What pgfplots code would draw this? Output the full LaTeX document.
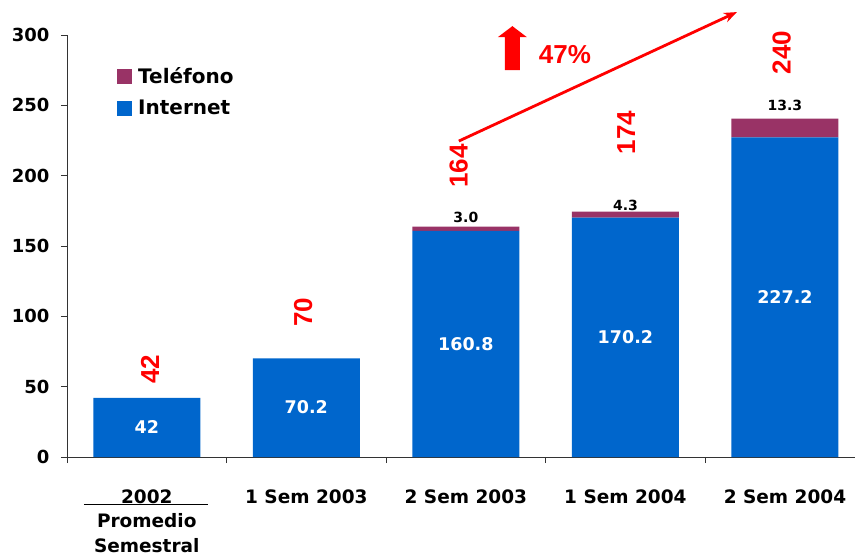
\documentclass[border=0pt]{standalone}
\usepackage{pgfplots}
\pgfplotsset{compat=1.18}
\usepackage{pgfplotstable}
\usetikzlibrary{arrows.meta}
\usepackage{fontspec}
\setmainfont{DejaVu Sans}
\newfontfamily\arialf{Liberation Sans}
\definecolor{inetblue}{RGB}{0,102,204}
\definecolor{telmaroon}{RGB}{153,51,102}
\pgfplotstableread{
x internet telefono
0 42 0
1 70.2 0
2 160.8 3.0
3 170.2 4.3
4 227.2 13.3
}\chartdata
\tikzset{
  wlab/.style={text=white, font=\bfseries\fontsize{17.5}{17.5}\selectfont},
  blab/.style={text=black, font=\bfseries\fontsize{14}{14}\selectfont},
  rlab/.style={text=red, rotate=90, font=\arialf\bfseries\fontsize{26}{26}\selectfont},
  clab/.style={anchor=base, font=\bfseries\fontsize{18.5}{18.5}\selectfont},
}
\pgfplotsset{frame/.style={
  at={(0pt,0pt)}, anchor=south west,
  scale only axis, width=788pt, height=422pt,
  xmin=-0.5, xmax=4.439, ymin=0, ymax=300, clip=false}}
\begin{document}
\begin{tikzpicture}
\useasboundingbox (-67pt,-98pt) rectangle (788pt,457pt);
\begin{axis}[
  frame,
  axis x line*=bottom, axis y line*=left,
  axis line style={black!80, line width=0.9pt},
  ybar stacked, bar width=107pt,
  xtick={0,...,4},
  xticklabels={2002,1 Sem 2003,2 Sem 2003,1 Sem 2004,2 Sem 2004},
  major x tick style={draw=none},
  minor xtick={-0.5,0.5,1.5,2.5,3.5},
  minor tick length=6pt, major tick length=6pt,
  tick align=outside,
  tick style={black!80, line width=0.9pt},
  xticklabel style={anchor=base, yshift=-40pt, font=\bfseries\fontsize{18.5}{18.5}\selectfont},
  ytick={0,50,...,300},
  yticklabel style={xshift=-8pt, font=\bfseries\fontsize{18}{18}\selectfont},
  /pgf/number format/assume math mode=true,
  legend image code/.code={\fill[#1] (0pt,-8pt) rectangle (15pt,7pt);},
  reverse legend,
  legend cell align=left,
  legend style={draw=none, fill=none, at={(0.0597,0.934)}, anchor=north west,
    font=\bfseries\fontsize{20}{20}\selectfont, row sep=11pt,
    /tikz/every odd column/.append style={column sep=4pt}},
]
\addplot[fill=inetblue, draw=none] table[x=x, y=internet]{\chartdata};
\addlegendentry{Internet}
\addplot[fill=telmaroon, draw=none] table[x=x, y=telefono]{\chartdata};
\addlegendentry{Teléfono}
\end{axis}
\begin{axis}[frame, hide axis]
\node[wlab] at (axis cs:0,21) {42};
\node[wlab] at (axis cs:1,35.1) {70.2};
\node[wlab] at (axis cs:2,80.4) {160.8};
\node[wlab] at (axis cs:3,85.1) {170.2};
\node[wlab] at (axis cs:4,113.6) {227.2};

\node[blab] at (axis cs:2,170.6) {3.0};
\node[blab] at (axis cs:3,179) {4.3};
\node[blab] at (axis cs:4,250) {13.3};

\node[rlab] at (axis cs:0.02,62.5) {42};
\node[rlab] at (axis cs:0.98,102.7) {70};
\node[rlab] at (axis cs:1.955,207) {164};
\node[rlab] at (axis cs:3.005,230.6) {174};
\node[rlab] at (axis cs:3.98,287.5) {240};

\draw[red, line width=2.8pt, -{Stealth[length=13pt, width=10pt]}] (axis cs:1.956,224.6) -- (axis cs:3.699,316.3);
\fill[red] (axis cs:2.2915,306.3) -- ++(14.5pt,-11pt) -- ++(-7pt,0pt) -- ++(0pt,-33pt) -- ++(-15pt,0pt) -- ++(0pt,33pt) -- ++(-7pt,0pt) -- cycle;
\node[text=red, font=\arialf\bfseries\fontsize{26}{26}\selectfont] at (axis cs:2.621,286.4) {47\%};

\draw[black, line width=1.2pt] ([yshift=-47.5pt]axis cs:-0.395,0) -- ([yshift=-47.5pt]axis cs:0.382,0);
\node[clab] at ([yshift=-70pt]axis cs:0,0) {Promedio};
\node[clab] at ([yshift=-95pt]axis cs:0,0) {Semestral};
\end{axis}
\end{tikzpicture}
\end{document}
